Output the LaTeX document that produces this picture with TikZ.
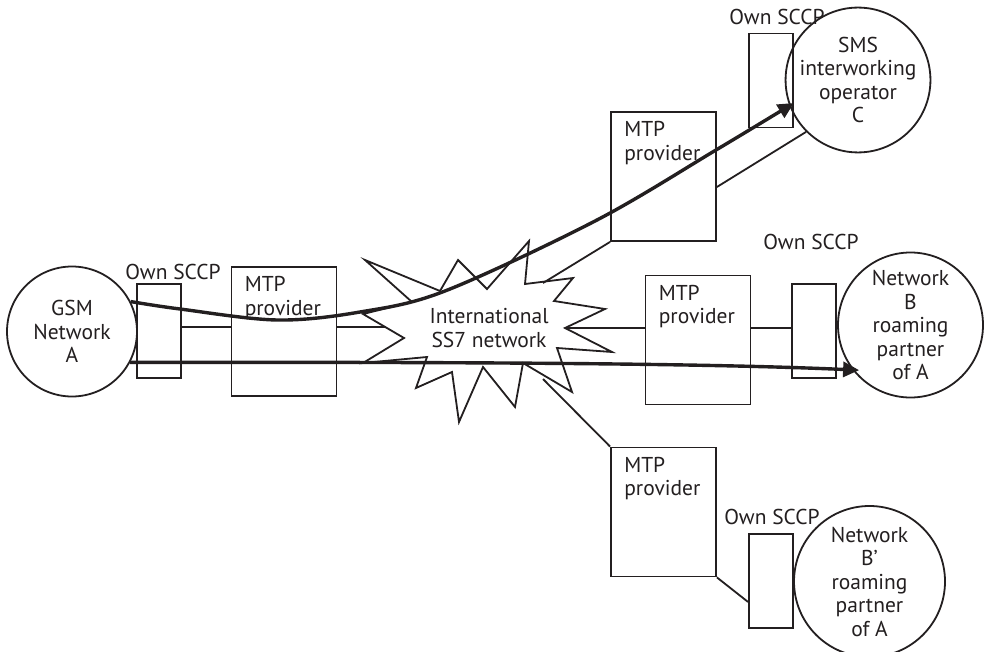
\documentclass[tikz,border=0pt]{standalone}
\usepackage{fontspec}
\setmainfont{PT Sans}
\usetikzlibrary{arrows.meta,calc}
\definecolor{ink}{RGB}{35,31,32}
\begin{document}
\begin{tikzpicture}[x=1pt,y=-1pt,
  every node/.style={text=ink, font=\fontsize{21.5}{23.5}\selectfont},
  thinline/.style={draw=ink, line width=1.8pt},
  route/.style={draw=ink, line width=3.4pt, -{Triangle[length=16pt,width=15pt]}},
  netcircle/.style={thinline, circle, inner sep=0pt, align=center},
  mtpbox/.style={thinline, rectangle, inner sep=0pt, minimum width=105pt, minimum height=129pt},
  sccpbox/.style={thinline, rectangle, inner sep=0pt, minimum width=44pt, minimum height=94pt},
  boxtext/.style={anchor=north west, align=left, inner sep=0pt},
  sccplabel/.style={inner sep=0pt},
]
\fill[white] (0,0) rectangle (984,652);
\useasboundingbox (0,0) rectangle (984,652);

% International SS7 network (starburst)
\draw[thinline, fill=white, line join=miter]
  (365,260) -- (440,291) -- (458,260) -- (487,289) -- (529,241) -- (525,284)
  -- (573,278) -- (554,301) -- (605,309) -- (565,328) -- (612,352) -- (557,348)
  -- (572,392) -- (523,363) -- (515,407) -- (483,367) -- (459,422) -- (452,372)
  -- (416,388) -- (427,357) -- (363,363) -- (404,338) -- (363,314) -- (412,302)
  -- cycle;
\node[align=center, inner sep=0pt] (ss7) at (489,328) {International\\SS7 network};
\coordinate (starW)  at (386,327);
\coordinate (starE)  at (565,328);
\coordinate (starNE) at (543,283);
\coordinate (starSE) at (543,379);

% networks
\node[netcircle, minimum size=130pt] (netA)  at (72,331.5)   {GSM\\Network\\A};
\node[netcircle, minimum size=130pt] (netC)  at (858,80)     {SMS\\interworking\\operator\\C};
\node[netcircle, minimum size=145pt] (netB)  at (910.5,325)  {Network\\B\\roaming\\partner\\of A};
\node[netcircle, minimum size=151pt] (netBp) at (869.5,581.5){Network\\B’\\roaming\\partner\\of A};

% own SCCP boxes and their labels
\node[sccpbox] (sccpL) at (159,331)  {};
\node[sccpbox] (sccpU) at (771,80.5) {};
\node[sccpbox] (sccpM) at (814,331)  {};
\node[sccpbox] (sccpD) at (771,581)  {};
\node[sccplabel] (sccpLlab) at (173,272) {Own SCCP};
\node[sccplabel] (sccpUlab) at (777,17)  {Own SCCP};
\node[sccplabel] (sccpMlab) at (811,242) {Own SCCP};
\node[sccplabel] (sccpDlab) at (772,517) {Own SCCP};

% MTP providers
\node[mtpbox] (mtpL) at (284,331.5) {};
\node[mtpbox] (mtpU) at (663.5,176.5) {};
\node[mtpbox] (mtpM) at (698,340) {};
\node[mtpbox] (mtpD) at (663.5,512) {};
\foreach \b in {mtpL,mtpU,mtpM,mtpD}
  \node[boxtext] (\b text) at ([shift={(14,10)}]\b.north west) {MTP\\provider};

% links
\draw[thinline] (sccpL.east |- starW) -- (mtpL.west |- starW);
\draw[thinline] (mtpL.east |- starW) -- (starW);
\draw[thinline] (starE) -- (mtpM.west |- starE);
\draw[thinline] (mtpM.east |- starE) -- (sccpM.west |- starE);
\draw[thinline] (starNE) -- (mtpU.south west);
\draw[thinline] ([yshift=-10.5pt]mtpU.east) -- (netC.225);
\draw[thinline] (starSE) -- (mtpD.north west);
\draw[thinline] (mtpD.south east) -- ([yshift=-21pt]sccpD.west);

% message routes
\draw[route] plot[smooth, tension=0.55] coordinates
  {(netA.27) (180,309) (277,320) (360,312) (445,291) (597,220) (716,150) ([yshift=-22.5pt]sccpU.east)};
\draw[route] (netA.-28) .. controls (450,362) and (700,363) .. ([shift={(4,-3)}]netB.221);
\end{tikzpicture}
\end{document}
